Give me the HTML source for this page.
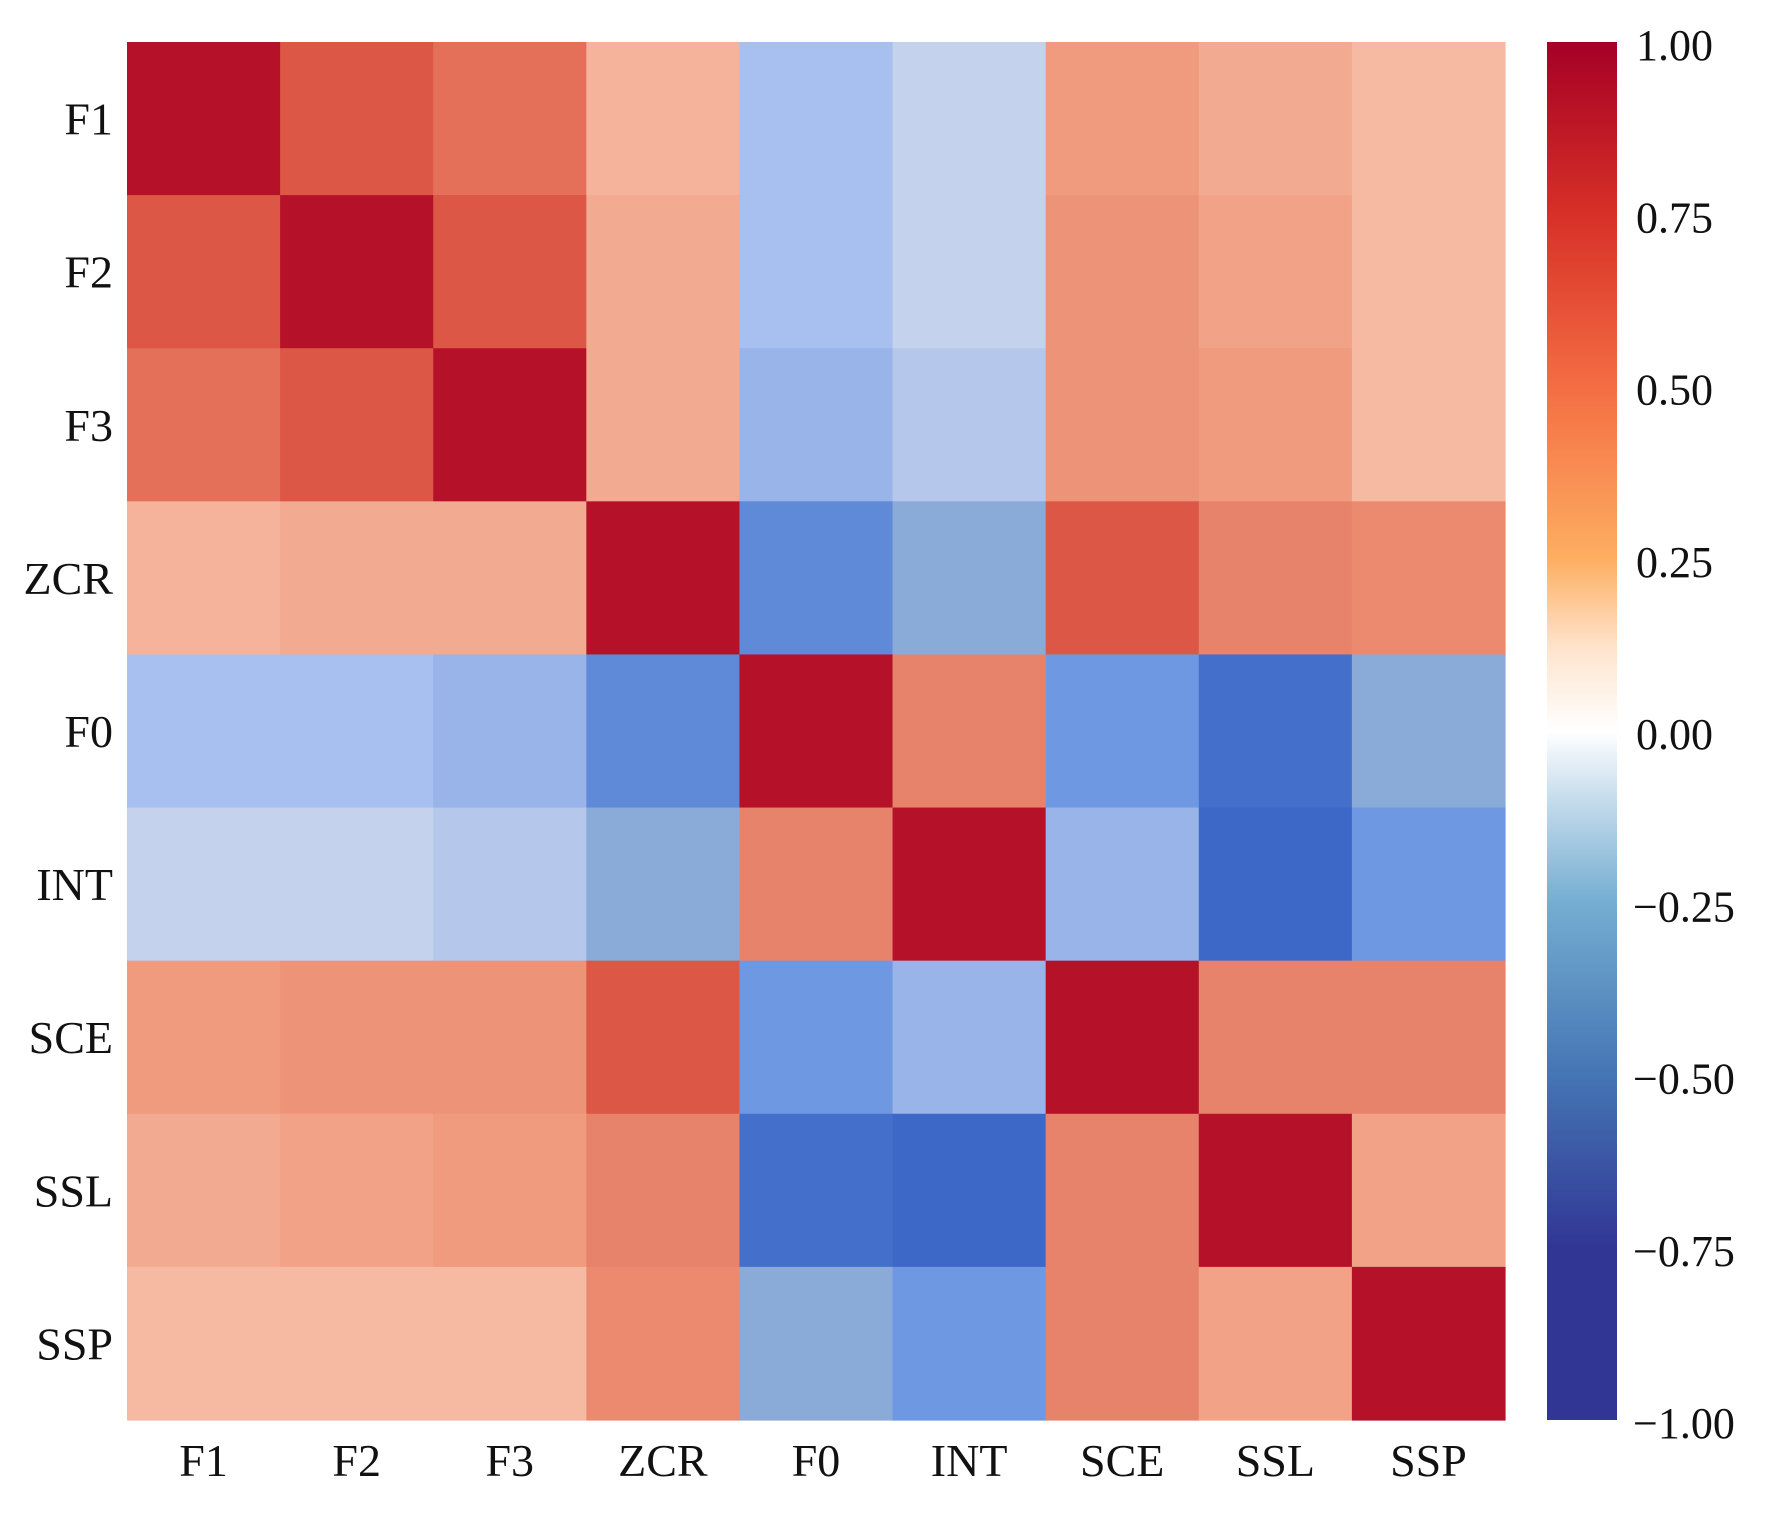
<!DOCTYPE html>
<html><head><meta charset="utf-8"><style>
html,body{margin:0;padding:0;background:#fff;}
svg text{font-family:"Liberation Serif",serif;fill:#111;}
</style></head><body>
<svg id="chart" width="1767" height="1521" xmlns="http://www.w3.org/2000/svg">
<defs>
<linearGradient id="cbg" x1="0" y1="1" x2="0" y2="0">
<stop offset="0" stop-color="#313695"/>
<stop offset="0.125" stop-color="#313695"/>
<stop offset="0.25" stop-color="#4575b4"/>
<stop offset="0.375" stop-color="#74add1"/>
<stop offset="0.45" stop-color="#c5dcec"/>
<stop offset="0.5" stop-color="#ffffff"/>
<stop offset="0.56" stop-color="#fee4cc"/>
<stop offset="0.625" stop-color="#fdae61"/>
<stop offset="0.75" stop-color="#f46d43"/>
<stop offset="0.875" stop-color="#d73027"/>
<stop offset="1" stop-color="#a50026"/>
</linearGradient>
</defs>
<g id="cells"></g>
<g id="ylabels"></g>
<g id="xlabels"></g>
<rect x="1547" y="42" width="70" height="1378" fill="url(#cbg)"/>
<g id="cbticks"></g>
</svg>
<script>
const labels = ["F1","F2","F3","ZCR","F0","INT","SCE","SSL","SSP"];
const row0 = [1,.76,.69,.36,-.35,-.18,.50,.40,.32];
const row1 = [.76,1,.76,.40,-.35,-.18,.53,.46,.32];
const row2 = [.69,.76,1,.40,-.44,-.27,.53,.50,.32];
const row3 = [.36,.40,.40,1,-.76,-.52,.76,.60,.57];
const row4 = [-.35,-.35,-.44,-.76,1,.60,-.68,-.94,-.52];
const row5 = [-.18,-.18,-.27,-.52,.60,1,-.44,-.98,-.68];
const row6 = [.50,.53,.53,.76,-.68,-.44,1,.60,.60];
const row7 = [.40,.46,.50,.60,-.94,-.98,.60,1,.46];
const row8 = [.32,.32,.32,.57,-.52,-.68,.60,.46,1];
const matrix = [row0,row1,row2,row3,row4,row5,row6,row7,row8];
const cbTicks = [1,0.75,0.5,0.25,0,-0.25,-0.5,-0.75,-1];

// colour ramp: [value, r, g, b]
const ramp=[[-1,58,98,196],[-0.98,62,104,200],[-0.94,68,112,204],[-0.76,94,138,216],[-0.68,111,152,226],[-0.52,138,171,216],[-0.44,152,180,232],[-0.35,168,192,239],[-0.27,181,199,235],[-0.18,196,210,237],[0,221,221,221],
[0.32,246,185,162],[0.36,245,179,155],[0.40,242,170,144],[0.46,241,162,135],[0.50,240,155,126],[0.53,237,148,120],[0.57,235,138,110],[0.60,232,131,107],[0.69,228,112,90],[0.76,220,87,69],[0.9,205,50,55],[1,181,18,42]];
function color(v){v=Math.max(-1,Math.min(1,v));let i=0;while(i<ramp.length-2&&v>ramp[i+1][0])i++;
const a=ramp[i],b=ramp[i+1],f=(v-a[0])/(b[0]-a[0]);
const c=[1,2,3].map(k=>Math.round(a[k]+(b[k]-a[k])*f));return `rgb(${c[0]},${c[1]},${c[2]})`;}
const X0=127,Y0=42,W=1378,H=1378,n=labels.length,cwid=W/n,chei=H/n;
const xs=i=>X0+i*cwid, ys=j=>Y0+j*chei;
const cbY=v=>42+(1-v)/2*1378;
const NS="http://www.w3.org/2000/svg";
const cells=document.getElementById('cells');
matrix.forEach((row,j)=>row.forEach((v,i)=>{
 const r=document.createElementNS(NS,'rect');
 r.setAttribute('x',xs(i));r.setAttribute('y',ys(j));
 r.setAttribute('width',cwid+0.6);r.setAttribute('height',chei+0.6);
 r.setAttribute('fill',color(v));
 
 
 cells.appendChild(r);
}));
const yl=document.getElementById('ylabels'),xl=document.getElementById('xlabels'),cb=document.getElementById('cbticks');
labels.forEach((l,k)=>{
 const t=document.createElementNS(NS,'text');
 t.setAttribute('x',113);t.setAttribute('y',ys(k)+chei/2+16);
 t.setAttribute('text-anchor','end');t.setAttribute('font-size','46');t.textContent=l;
 
 
 yl.appendChild(t);
 const u=document.createElementNS(NS,'text');
 u.setAttribute('x',xs(k)+cwid/2);u.setAttribute('y',1476);
 u.setAttribute('text-anchor','middle');u.setAttribute('font-size','46');u.textContent=l;
 
 
 xl.appendChild(u);
});
cbTicks.forEach(v=>{
 const t=document.createElementNS(NS,'text');
 t.setAttribute('x',v<0?1633:1636);t.setAttribute('y',cbY(v)+18);
 t.setAttribute('font-size','44');
 t.textContent=(v<0?'\u2212':'')+Math.abs(v).toFixed(2);
 
 
 cb.appendChild(t);
});
</script>
</body></html>
